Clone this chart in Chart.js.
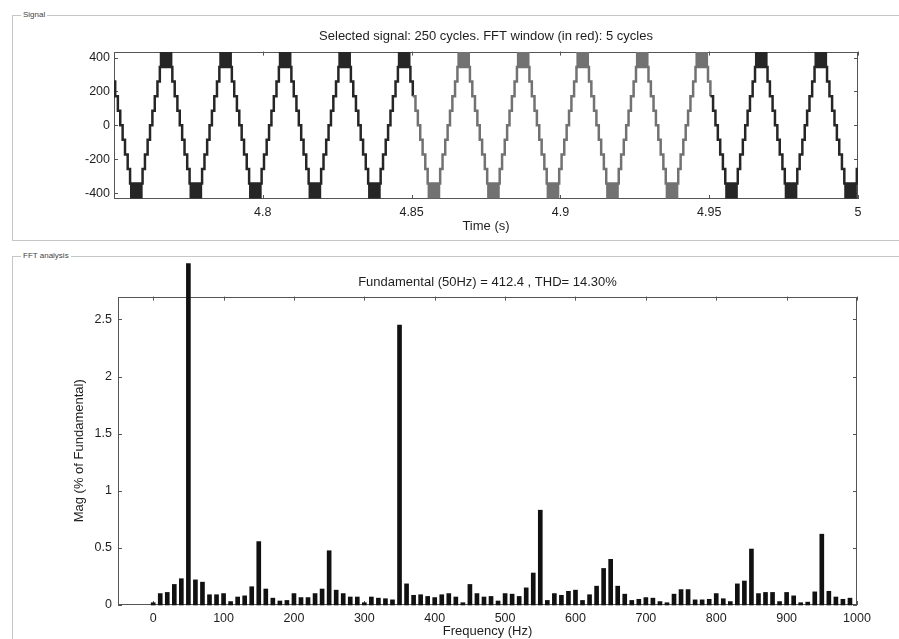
<!DOCTYPE html>
<html>
<head>
<meta charset="utf-8">
<script src="https://cdn.jsdelivr.net/npm/chart.js@4.4.1/dist/chart.umd.min.js"></script>
<style>
  body { margin: 0; background: #fff; }
  #page { position: relative; width: 899px; height: 639px; overflow: hidden; font-family: "Liberation Sans", Arial, sans-serif; }
  .frame { position: absolute; border: 1px solid #c6c6c6; }
  .frame span { position: absolute; top: -6px; left: 8px; background: #fff; padding: 0 2px; font-size: 8px; color: #444; line-height: 10px; }
  canvas { position: absolute; left: 0; }
</style>
</head>
<body>
<div id="page">
  <div class="frame" style="left:12px; top:15px; width:900px; height:224px;"><span>Signal</span></div>
  <div class="frame" style="left:12px; top:256px; width:900px; height:400px;"><span>FFT analysis</span></div>
  <canvas id="signalChart" width="899" height="240" style="top:0"></canvas>
  <canvas id="fftChart" width="899" height="399" style="top:240px"></canvas>
</div>
<script>
// --- signal panel ---
const signalTitle = 'Selected signal: 250 cycles. FFT window (in red): 5 cycles';
const peakTimes = [4.7475, 4.7675, 4.7875, 4.8075, 4.8275, 4.8475, 4.8675, 4.8875, 4.9075, 4.9275, 4.9475, 4.9675, 4.9875];
const troughTimes = [4.7575, 4.7775, 4.7975, 4.8175, 4.8375, 4.8575, 4.8775, 4.8975, 4.9175, 4.9375, 4.9575, 4.9775, 4.9975];
const inverterLevels = [344, 258, 172, 86, 0, -86, -172, -258, -344];
const stepOffsetsMs = [2.1, 2.9, 3.8, 4.6, 5.4, 6.2, 7.1, 7.9];
const flatHalfMs = 2.1;
const pwmLevel = 430;
const fftWindow = [4.85, 4.95];
const timeTicks = [4.8, 4.85, 4.9, 4.95, 5];
const signalTicks = [-400, -200, 0, 200, 400];

// --- FFT panel ---
const fftTitle = 'Fundamental (50Hz) = 412.4 , THD= 14.30%';
const freqHz = [
  0, 10, 20, 30, 40, 50, 60, 70, 80, 90, 100, 110, 120, 130, 140, 150, 160, 170, 180, 190,
  200, 210, 220, 230, 240, 250, 260, 270, 280, 290, 300, 310, 320, 330, 340, 350, 360, 370, 380, 390,
  400, 410, 420, 430, 440, 450, 460, 470, 480, 490, 500, 510, 520, 530, 540, 550, 560, 570, 580, 590,
  600, 610, 620, 630, 640, 650, 660, 670, 680, 690, 700, 710, 720, 730, 740, 750, 760, 770, 780, 790,
  800, 810, 820, 830, 840, 850, 860, 870, 880, 890, 900, 910, 920, 930, 940, 950, 960, 970, 980, 990
];
const magnitudes = [
  0.02, 0.10, 0.11, 0.18, 0.23, 2.99, 0.22, 0.20, 0.09, 0.09,
  0.10, 0.03, 0.07, 0.08, 0.16, 0.555, 0.14, 0.06, 0.035, 0.04,
  0.10, 0.065, 0.065, 0.10, 0.14, 0.475, 0.13, 0.10, 0.07, 0.07,
  0.02, 0.07, 0.06, 0.055, 0.045, 2.45, 0.185, 0.085, 0.09, 0.075,
  0.065, 0.09, 0.10, 0.07, 0.02, 0.18, 0.10, 0.07, 0.075, 0.035,
  0.10, 0.095, 0.075, 0.15, 0.28, 0.83, 0.04, 0.10, 0.085, 0.12,
  0.13, 0.04, 0.09, 0.165, 0.32, 0.40, 0.165, 0.095, 0.04, 0.05,
  0.065, 0.06, 0.03, 0.02, 0.095, 0.135, 0.135, 0.045, 0.045, 0.05,
  0.10, 0.055, 0.03, 0.185, 0.21, 0.49, 0.10, 0.11, 0.11, 0.03,
  0.11, 0.08, 0.02, 0.025, 0.115, 0.62, 0.12, 0.07, 0.05, 0.06
];
const freqTicks = [0, 100, 200, 300, 400, 500, 600, 700, 800, 900, 1000];
const magTicks = [0, 0.5, 1, 1.5, 2, 2.5];

const fontFamily = '"Liberation Sans", Arial, sans-serif';
const textColor = '#1e1e1e';
const dark = '#262626';
const windowGray = '#727272';
const inWindow = t => t >= fftWindow[0] && t < fftWindow[1];

// staircase: each extreme holds the outer level, then steps through the inverter levels
const extremes = peakTimes.map(t => ({t: t, s: 1}))
  .concat(troughTimes.map(t => ({t: t, s: -1})))
  .sort((a, b) => a.t - b.t);
const signalPoints = [];
extremes.forEach((e, k) => {
  if (k === 0) signalPoints.push({x: e.t - flatHalfMs / 1000, y: e.s * inverterLevels[0]});
  stepOffsetsMs.forEach((ms, i) => {
    signalPoints.push({x: e.t + ms / 1000, y: e.s * inverterLevels[i + 1]});
  });
});
const pwmBands = extremes.map(e => ({
  x: e.t,
  y: e.s > 0 ? [inverterLevels[0], pwmLevel] : [-pwmLevel, -inverterLevels[0]]
}));

// matlab style box with inward tick marks
const boxTicks = {
  id: 'boxTicks',
  beforeDatasetsDraw(chart) {
    const {ctx, chartArea: a, scales: {x, y}} = chart;
    const len = 4;
    ctx.save();
    ctx.strokeStyle = '#555';
    ctx.lineWidth = 1;
    ctx.strokeRect(Math.round(a.left) + 0.5, Math.round(a.top) + 0.5, Math.round(a.width) - 1, Math.round(a.height) - 1);
    ctx.beginPath();
    x.ticks.forEach(t => {
      const px = Math.round(x.getPixelForValue(t.value)) + 0.5;
      ctx.moveTo(px, a.bottom); ctx.lineTo(px, a.bottom - len);
      ctx.moveTo(px, a.top); ctx.lineTo(px, a.top + len);
    });
    y.ticks.forEach(t => {
      const py = Math.round(y.getPixelForValue(t.value)) + 0.5;
      ctx.moveTo(a.left, py); ctx.lineTo(a.left + len, py);
      ctx.moveTo(a.right, py); ctx.lineTo(a.right - len, py);
    });
    ctx.stroke();
    ctx.restore();
  }
};

const tickFont = {family: fontFamily, size: 12.5};
const labelFont = {family: fontFamily, size: 13};
const titleFont = {family: fontFamily, size: 13, weight: 'normal'};

new Chart(document.getElementById('signalChart'), {
  type: 'line',
  data: {
    datasets: [{
      type: 'line',
      data: signalPoints,
      stepped: 'before',
      borderColor: dark,
      borderWidth: 2.5,
      pointRadius: 0,
      segment: {
        borderColor: c => inWindow(c.p0.parsed.x) ? windowGray : dark
      },
      order: 1
    }, {
      type: 'bar',
      data: pwmBands,
      backgroundColor: pwmBands.map(b => inWindow(b.x) ? windowGray : dark),
      borderWidth: 0,
      barThickness: 12,
      order: 2
    }]
  },
  options: {
    responsive: false,
    animation: false,
    layout: {padding: {left: 0, right: 41, top: 0, bottom: 0}},
    plugins: {
      legend: {display: false},
      tooltip: {enabled: false},
      title: {display: true, fullSize: false, text: signalTitle, color: textColor, font: titleFont, padding: {top: 29, bottom: 7}}
    },
    scales: {
      x: {
        type: 'linear', min: 4.75, max: 5, offset: false,
        grid: {display: false, drawTicks: false}, border: {display: false},
        afterBuildTicks: s => { s.ticks = timeTicks.map(v => ({value: v})); },
        ticks: {color: textColor, font: tickFont, padding: 6, maxRotation: 0, autoSkip: false, callback: v => String(v)},
        title: {display: true, text: 'Time (s)', color: textColor, font: labelFont, padding: {top: 0, bottom: 6}},
        afterFit: s => { s.height = 41; }
      },
      y: {
        type: 'linear', min: -435, max: 435,
        grid: {display: false, drawTicks: false}, border: {display: false},
        afterBuildTicks: s => { s.ticks = signalTicks.map(v => ({value: v})); },
        ticks: {color: textColor, font: tickFont, padding: 4, autoSkip: false, callback: v => String(v)},
        afterFit: s => { s.width = 114; }
      }
    }
  },
  plugins: [boxTicks]
});

new Chart(document.getElementById('fftChart'), {
  type: 'bar',
  data: {
    datasets: [{
      data: freqHz.map((f, i) => ({x: f, y: magnitudes[i]})),
      backgroundColor: '#111',
      borderWidth: 0,
      barThickness: 4,
      clip: false
    }]
  },
  options: {
    responsive: false,
    animation: false,
    layout: {padding: {left: 0, right: 42, top: 0, bottom: 0}},
    plugins: {
      legend: {display: false},
      tooltip: {enabled: false},
      title: {display: true, fullSize: false, text: fftTitle, color: textColor, font: titleFont, padding: {top: 35, bottom: 6}}
    },
    scales: {
      x: {
        type: 'linear', min: -50, max: 1000, offset: false,
        grid: {display: false, drawTicks: false, offset: false}, border: {display: false},
        afterBuildTicks: s => { s.ticks = freqTicks.map(v => ({value: v})); },
        ticks: {color: textColor, font: tickFont, padding: 6, maxRotation: 0, autoSkip: false, callback: v => String(v)},
        title: {display: true, text: 'Frequency (Hz)', color: textColor, font: labelFont, padding: {top: 0, bottom: 0}},
        afterFit: s => { s.height = 34; }
      },
      y: {
        type: 'linear', min: 0, max: 2.7,
        grid: {display: false, drawTicks: false}, border: {display: false},
        afterBuildTicks: s => { s.ticks = magTicks.map(v => ({value: v})); },
        ticks: {color: textColor, font: tickFont, padding: 6, autoSkip: false, callback: v => String(v)},
        title: {display: true, text: 'Mag (% of Fundamental)', color: textColor, font: labelFont, padding: {top: 72, bottom: 0}},
        afterFit: s => { s.width = 118; }
      }
    }
  },
  plugins: [boxTicks]
});
</script>
</body>
</html>
